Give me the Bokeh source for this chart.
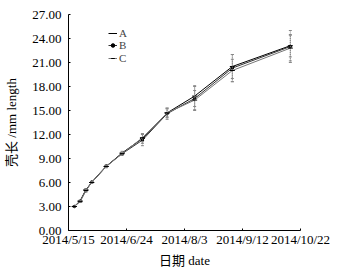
import pandas as pd
from bokeh.plotting import figure
from bokeh.models import ColumnDataSource, FixedTicker, NumeralTickFormatter, Range1d, Legend
from bokeh.embed import file_html
from bokeh.resources import INLINE

# ---- data ----
dates = ["2014-05-19", "2014-05-23", "2014-05-27", "2014-05-31", "2014-06-10",
         "2014-06-21", "2014-07-05", "2014-07-22", "2014-08-10", "2014-09-05", "2014-10-15"]
series_a = [3.0, 3.7, 5.1, 6.0, 8.0, 9.7, 11.5, 14.7, 16.8, 20.5, 23.1]
series_b = [3.0, 3.65, 5.0, 6.05, 8.05, 9.6, 11.3, 14.6, 16.5, 20.3, 23.0]
series_c = [3.0, 3.6, 5.0, 6.0, 8.0, 9.6, 11.6, 14.7, 16.3, 20.0, 22.8]
err_a = [0.05, 0.1, 0.15, 0.1, 0.15, 0.2, 0.6, 0.6, 1.3, 1.5, 1.4]
err_b = [0.05, 0.1, 0.2, 0.1, 0.1, 0.2, 0.7, 0.7, 1.5, 1.7, 2.0]
err_c = [0.05, 0.1, 0.15, 0.1, 0.15, 0.15, 0.5, 0.5, 1.2, 1.4, 1.6]
names = ["A", "B", "C"]
tick_dates = ["2014-05-15", "2014-06-24", "2014-08-03", "2014-09-12", "2014-10-22"]
tick_labels = ["2014/5/15", "2014/6/24", "2014/8/3", "2014/9/12", "2014/10/22"]
y_ticks = [0, 3, 6, 9, 12, 15, 18, 21, 24, 27]

FONT = "'Liberation Serif', 'Noto Sans CJK SC'"

def ms(d):
    return pd.Timestamp(d).value / 1e6

p = figure(width=343, height=273, x_axis_type="datetime", output_backend="svg",
           toolbar_location=None,
           x_range=Range1d(ms(tick_dates[0]), ms(tick_dates[-1])),
           y_range=Range1d(0, 27),
           min_border_left=68, min_border_right=43, min_border_top=14, min_border_bottom=43)
p.outline_line_color = None
p.xgrid.visible = False
p.ygrid.visible = False
p.background_fill_color = "white"
p.border_fill_color = "white"

x = pd.to_datetime(dates)
styles = [
    dict(color="black", marker="dash", size=5),
    dict(color="#333333", marker="circle", size=2.5),
    dict(color="#777777", marker="dash", size=5),
]
vals = [series_a, series_b, series_c]
errs = [err_a, err_b, err_c]
legend_y = [191, 179, 166]
for name, v, e, st, ly in zip(names, vals, errs, styles, legend_y):
    up = [a + b for a, b in zip(v, e)]
    lo = [a - b for a, b in zip(v, e)]
    src = ColumnDataSource(dict(x=x, y=v, up=up, lo=lo))
    p.segment(x0="x", y0="lo", x1="x", y1="up", source=src, line_color="#888888",
              line_width=1, line_dash="1 1")
    p.scatter(x="x", y="up", source=src, marker="dash", size=3, line_color="#888888")
    p.scatter(x="x", y="lo", source=src, marker="dash", size=3, line_color="#888888")
    r1 = p.line(x="x", y="y", source=src, line_color=st["color"], line_width=1)
    r2 = p.scatter(x="x", y="y", source=src, marker=st["marker"], size=st["size"],
                   line_color="black", fill_color="black")
    lg = Legend(items=[(name, [r1, r2])], location=(40, ly), glyph_width=9, glyph_height=10,
                label_height=10, label_standoff=2, padding=0, spacing=0, margin=0,
                border_line_alpha=0, background_fill_alpha=0,
                label_text_font=FONT, label_text_font_size="11px")
    p.add_layout(lg)

# axes
p.xaxis.ticker = FixedTicker(ticks=[ms(d) for d in tick_dates])
p.xaxis.major_label_overrides = {ms(d): lab for d, lab in zip(tick_dates, tick_labels)}
p.yaxis.ticker = FixedTicker(ticks=y_ticks)
p.yaxis.formatter = NumeralTickFormatter(format="0.00")
for ax in (p.xaxis, p.yaxis):
    ax.axis_line_color = "black"
    ax.major_tick_line_color = "black"
    ax.major_tick_in = 2
    ax.major_tick_out = 0
    ax.minor_tick_line_color = None
    ax.major_label_text_font = FONT
    ax.major_label_text_font_size = "13px"
    ax.major_label_text_color = "black"
    ax.axis_label_text_font = FONT
    ax.axis_label_text_font_size = "13px"
    ax.axis_label_text_font_style = "normal"
    ax.axis_label_text_color = "black"
p.xaxis.axis_label = "日期 date"
p.yaxis.axis_label = "壳长 /mm length"
p.xaxis.major_label_standoff = 1
p.xaxis.axis_label_standoff = 3
p.yaxis.major_label_standoff = 7
p.yaxis.axis_label_standoff = 10

open("out.html", "w").write(file_html(p, INLINE))
